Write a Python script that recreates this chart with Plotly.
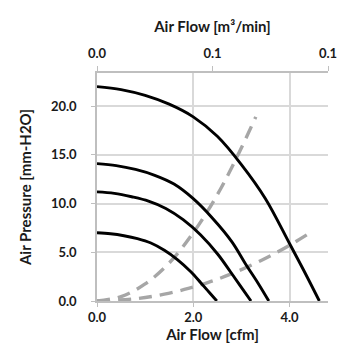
import plotly.graph_objects as go

# Fan performance curves (Air Flow [cfm] vs Air Pressure [mm-H2O])
fan1_x = [0, 0.5, 1.0, 1.5, 2.0, 2.5, 3.0, 3.5, 4.0, 4.3, 4.62]
fan1_y = [22.0, 21.7, 21.1, 20.2, 18.9, 16.9, 14.0, 10.5, 5.9, 3.1, 0.0]

fan2_x = [0, 0.4, 0.8, 1.2, 1.6, 2.0, 2.4, 2.8, 3.1, 3.35, 3.57]
fan2_y = [14.1, 13.9, 13.5, 12.9, 12.0, 10.5, 8.5, 6.1, 3.7, 1.8, 0.0]

fan3_x = [0, 0.36, 0.72, 1.07, 1.43, 1.79, 2.15, 2.51, 2.78, 3.0, 3.2]
fan3_y = [11.2, 11.05, 10.7, 10.25, 9.5, 8.35, 6.8, 4.8, 2.95, 1.4, 0.0]

fan4_x = [0, 0.28, 0.56, 0.84, 1.12, 1.4, 1.67, 1.95, 2.16, 2.33, 2.49]
fan4_y = [7.0, 6.9, 6.7, 6.4, 5.95, 5.2, 4.25, 3.0, 1.85, 0.9, 0.0]

# System impedance curves
sys1_x = [0, 0.5, 1.0, 1.5, 2.0, 2.5, 2.9, 3.3]
sys1_y = [0, 0.45, 1.75, 3.9, 7.0, 10.9, 14.7, 18.9]

sys2_x = [0, 0.8, 1.4, 1.9, 2.3, 2.75, 3.4, 3.75, 4.0, 4.5]
sys2_y = [0, 0.23, 0.7, 1.29, 1.89, 2.7, 4.13, 5.02, 5.71, 7.23]

x_ticks = [0.0, 2.0, 4.0]
y_ticks = [0.0, 5.0, 10.0, 15.0, 20.0]
top_tickvals = [0.0, 0.068, 0.136]
top_ticktext = ["0.0", "0.1", "0.1"]

FONT = "Lato"
TXT = "#1a1a1a"
GRID = "#d9d9d9"
AXL = "#bfbfbf"
TICKF = dict(family=FONT, size=13, color=TXT, weight="bold")
TITLEF = dict(family=FONT, size=15, color=TXT, weight="bold")

fig = go.Figure()

for xs, ys in [(sys1_x, sys1_y), (sys2_x, sys2_y)]:
    fig.add_trace(go.Scatter(x=xs, y=ys, mode="lines",
                             line=dict(color="#a6a6a6", width=3.4, dash="13px,8px", shape="spline"),
                             showlegend=False, hoverinfo="skip"))

for xs, ys in [(fan1_x, fan1_y), (fan2_x, fan2_y), (fan3_x, fan3_y), (fan4_x, fan4_y)]:
    fig.add_trace(go.Scatter(x=xs, y=ys, mode="lines",
                             line=dict(color="black", width=2.9, shape="spline"),
                             showlegend=False, hoverinfo="skip"))

# Dummy trace for top (m³/min) axis
fig.add_trace(go.Scatter(x=[None], y=[None], xaxis="x2", yaxis="y", showlegend=False, hoverinfo="skip"))

fig.update_layout(
    width=355, height=355,
    margin=dict(l=89, r=35, t=65, b=62),
    paper_bgcolor="white", plot_bgcolor="white",
    font=dict(family=FONT, color=TXT, size=12),
    xaxis=dict(
        range=[0, 4.8], tickvals=x_ticks, tickformat=".1f",
        showgrid=True, gridcolor=GRID, gridwidth=1.5,
        showline=True, linecolor=AXL, linewidth=1.5,
        ticks="outside", ticklen=4, tickcolor=AXL,
        zeroline=False, tickfont=TICKF,
        title=dict(text="Air Flow [cfm]", font=TITLEF, standoff=0),
    ),
    xaxis2=dict(
        overlaying="x", side="top", range=[0, 0.136],
        tickvals=top_tickvals, ticktext=top_ticktext,
        showgrid=False, showline=True, linecolor=AXL, linewidth=1.5,
        ticks="outside", ticklen=5, tickcolor=AXL, zeroline=False,
        tickfont=TICKF, ticklabelstandoff=3,
        title=dict(text="Air Flow [m³/min]", font=TITLEF, standoff=9),
    ),
    yaxis=dict(
        range=[0, 23.4], tickvals=y_ticks, tickformat=".1f",
        showgrid=True, gridcolor=GRID, gridwidth=1.5,
        showline=True, linecolor=AXL, linewidth=1.5,
        ticks="outside", ticklen=4, tickcolor=AXL, zeroline=False,
        tickfont=TICKF, ticklabelstandoff=12,
        title=dict(text="Air Pressure [mm-H2O]", font=TITLEF, standoff=16),
    ),
)

fig.write_html("out.html")
